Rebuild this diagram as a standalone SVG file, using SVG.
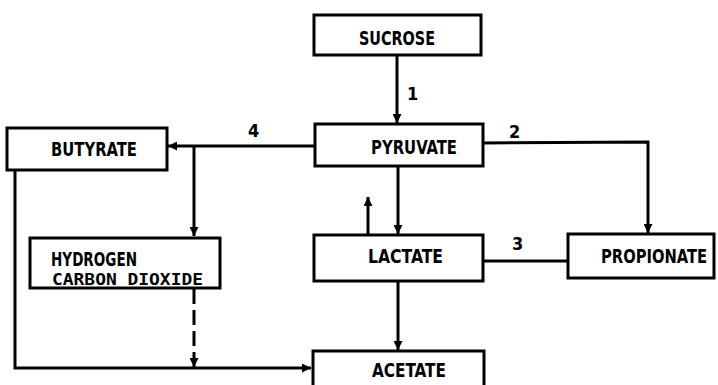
<svg xmlns="http://www.w3.org/2000/svg" width="718" height="385" viewBox="0 0 718 385">
<style>
.box{fill:#fff;stroke:#000;stroke-width:3}
.t{font-family:"DejaVu Sans Condensed","DejaVu Sans",sans-serif;font-weight:bold;font-size:20px;fill:#000}
.m{font-family:"DejaVu Sans Mono","Liberation Mono",monospace;font-weight:bold;font-size:15px;fill:#000}
.n{font-family:"DejaVu Sans Condensed","DejaVu Sans",sans-serif;font-weight:bold;font-size:18px;fill:#000}
.c{fill:none;stroke:#000;stroke-width:3}
.d{stroke-dasharray:15 6}
</style>
<defs>
<marker id="ah" viewBox="0 0 10 10" refX="10" refY="5" markerWidth="3" markerHeight="3" orient="auto" markerUnits="strokeWidth">
<path d="M0,0 L10,5 L0,10 Z" fill="#000"/>
</marker>
</defs>
<g id="connectors">
<line class="c" x1="397" y1="55" x2="397" y2="123" marker-end="url(#ah)"/>
<polyline class="c" points="483,143 648,142 648,233" marker-end="url(#ah)"/>
<line class="c" x1="316" y1="146" x2="168" y2="146" marker-end="url(#ah)"/>
<line class="c" x1="194" y1="146" x2="194" y2="236" marker-end="url(#ah)"/>
<line class="c" x1="398" y1="166" x2="398" y2="234" marker-end="url(#ah)"/>
<line class="c" x1="368" y1="234" x2="368" y2="197" marker-end="url(#ah)"/>
<line class="c" x1="483" y1="261" x2="568" y2="261"/>
<line class="c" x1="398" y1="281" x2="398" y2="350" marker-end="url(#ah)"/>
<polyline class="c" points="15,170 15,368 311,368" marker-end="url(#ah)"/>
<line class="c d" x1="194" y1="289" x2="194" y2="367" marker-end="url(#ah)"/>
<text class="n" x="407" y="100">1</text>
<text class="n" x="509" y="138">2</text>
<text class="n" x="512" y="250">3</text>
<text class="n" x="248" y="137">4</text>
</g>
<g id="sucrose">
<rect class="box" x="314" y="15" width="167" height="40"/>
<text class="t" x="359" y="45" textLength="76" lengthAdjust="spacingAndGlyphs">SUCROSE</text>
</g>
<g id="pyruvate">
<rect class="box" x="315" y="124" width="168" height="42"/>
<text class="t" x="371" y="154" textLength="86" lengthAdjust="spacingAndGlyphs">PYRUVATE</text>
</g>
<g id="butyrate">
<rect class="box" x="7" y="128" width="160" height="42"/>
<text class="t" x="51" y="156" textLength="86" lengthAdjust="spacingAndGlyphs">BUTYRATE</text>
</g>
<g id="hydrogen">
<rect class="box" x="30" y="238" width="190" height="50"/>
<text class="t" x="51" y="266" textLength="86" lengthAdjust="spacingAndGlyphs">HYDROGEN</text>
<text class="m" x="52" y="285" textLength="151" lengthAdjust="spacingAndGlyphs">CARBON DIOXIDE</text>
</g>
<g id="lactate">
<rect class="box" x="314" y="235" width="169" height="46"/>
<text class="t" x="368" y="263" textLength="75" lengthAdjust="spacingAndGlyphs">LACTATE</text>
</g>
<g id="propionate">
<rect class="box" x="568" y="234" width="146" height="44"/>
<text class="t" style="font-size:16px" transform="translate(601 263) scale(1 1.22)" x="0" y="0" textLength="106" lengthAdjust="spacingAndGlyphs">PROPIONATE</text>
</g>
<g id="acetate">
<rect class="box" x="313" y="351" width="171" height="40"/>
<text class="t" x="372" y="377" textLength="74" lengthAdjust="spacingAndGlyphs">ACETATE</text>
</g>
</svg>
